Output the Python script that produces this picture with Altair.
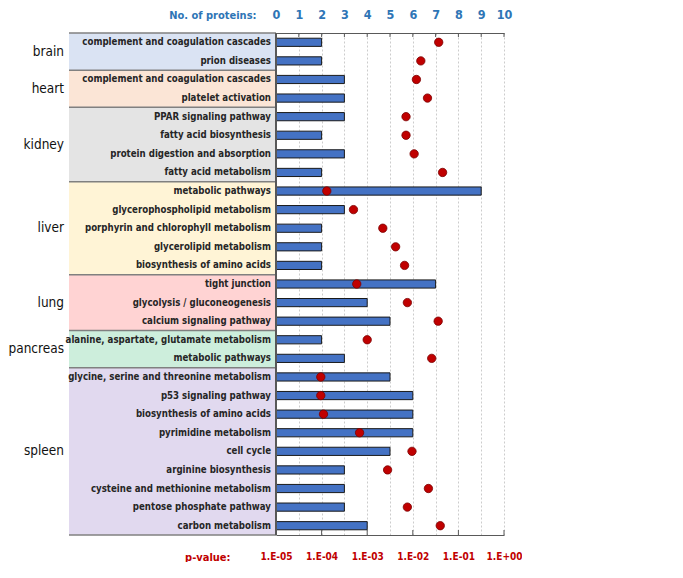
import altair as alt
import pandas as pd
import numpy as np

tissues = ["brain", "heart", "kidney", "liver", "lung", "pancreas", "spleen"]
tissue_sizes = [2, 2, 4, 5, 3, 2, 9]
band_colors = ["#DAE3F3", "#FBE5D6", "#E4E4E4", "#FFF4D6", "#FFD3D3", "#CDEEDC", "#E1D9EF"]

pathways = [
    "complement and coagulation cascades", "prion diseases",
    "complement and coagulation cascades", "platelet activation",
    "PPAR signaling pathway", "fatty acid biosynthesis",
    "protein digestion and absorption", "fatty acid metabolism",
    "metabolic pathways", "glycerophospholipid metabolism",
    "porphyrin and chlorophyll metabolism", "glycerolipid metabolism",
    "biosynthesis of amino acids",
    "tight junction", "glycolysis / gluconeogenesis", "calcium signaling pathway",
    "alanine, aspartate, glutamate metabolism", "metabolic pathways",
    "glycine, serine and threonine metabolism", "p53 signaling pathway",
    "biosynthesis of amino acids", "pyrimidine metabolism", "cell cycle",
    "arginine biosynthesis", "cysteine and methionine metabolism",
    "pentose phosphate pathway", "carbon metabolism",
]
n_proteins = [2, 2, 3, 3, 3, 2, 3, 2, 9, 3, 2, 2, 2, 7, 4, 5, 2, 3,
              5, 6, 6, 6, 5, 3, 3, 3, 4]
p_values = [0.037, 0.015, 0.012, 0.021, 0.0071, 0.0071, 0.0107, 0.045,
            1.3e-4, 5.0e-4, 2.2e-3, 4.2e-3, 6.6e-3,
            5.9e-4, 7.6e-3, 0.036,
            1.0e-3, 0.026,
            9.6e-5, 9.6e-5, 1.1e-4, 6.8e-4, 9.6e-3, 2.8e-3, 0.022, 7.6e-3, 0.040]

count_ticks = list(range(11))
p_ticks = [1e-5, 1e-4, 1e-3, 1e-2, 1e-1, 1]

N = len(pathways)
tissue_col = sum([[t] * s for t, s in zip(tissues, tissue_sizes)], [])
rows = pd.DataFrame({
    "pathway": pathways,
    "tissue": tissue_col,
    "count": n_proteins,
    "pval": p_values,
    "row": np.arange(N),
})
rows["ymid"] = rows["row"] + 0.5
rows["y0"] = rows["row"] + 0.28
rows["y1"] = rows["row"] + 0.72

starts = np.concatenate([[0], np.cumsum(tissue_sizes)[:-1]])
ends = np.cumsum(tissue_sizes)
groups = pd.DataFrame({
    "tissue": tissues,
    "start": starts,
    "end": ends,
    "center": (starts + ends) / 2,
    "color": band_colors,
})
bounds = pd.DataFrame({"b": list(starts) + [N]})
ct_df = pd.DataFrame({"v": count_ticks})
pt_df = pd.DataFrame({"v": p_ticks})

FONT = "DejaVu Sans Condensed, Liberation Sans, sans-serif"
yscale = alt.Scale(domain=[0, N], reverse=True, nice=False, zero=False)
cscale = alt.Scale(domain=[0, 10], nice=False)
pscale = alt.Scale(type="log", domain=[1e-5, 1], nice=False)
W, H = 228, 502

bands = alt.Chart(groups).mark_rect().encode(
    x=alt.value(-207), x2=alt.value(0),
    y=alt.Y("start:Q", scale=yscale, axis=None), y2="end:Q",
    color=alt.Color("color:N", scale=None),
)
band_rules = alt.Chart(bounds).mark_rule(color="#808080", strokeWidth=1.5).encode(
    x=alt.value(-207), x2=alt.value(0),
    y=alt.Y("b:Q", scale=yscale, axis=None),
)
tissue_text = alt.Chart(groups).mark_text(
    align="right", baseline="middle", font=FONT, fontSize=13.5,
    color="#111111"
).encode(
    x=alt.value(-212), y=alt.Y("center:Q", scale=yscale, axis=None), text="tissue:N"
)
path_text = alt.Chart(rows).mark_text(
    align="right", baseline="middle", font=FONT, fontSize=9.6, fontWeight="bold",
    color="#262626"
).encode(
    x=alt.value(-5), y=alt.Y("ymid:Q", scale=yscale, axis=None), text="pathway:N"
)

bars = alt.Chart(rows).mark_bar(
    color="#4472C4", stroke="#1a1a1a", strokeWidth=1
).encode(
    x=alt.X("count:Q", scale=cscale,
            axis=alt.Axis(orient="top", values=count_ticks, grid=True,
                          gridDash=[2, 2], gridColor="#cccccc", tickSize=0,
                          labelPadding=12, labelOverlap=False, labelFlush=False,
                          labelFont=FONT, labelFontSize=12.5,
                          labelFontWeight="bold", labelColor="#2E75B6",
                          domainColor="#595959", domainWidth=1.2,
                          title="No. of proteins:", titleAngle=0, titleAlign="right",
                          titleBaseline="middle", titleX=-20, titleY=-18,
                          titleFont=FONT, titleFontSize=11, titleFontWeight="bold",
                          titleColor="#2E75B6")),
    x2=alt.datum(0),
    y=alt.Y("y0:Q", scale=yscale, axis=None), y2="y1:Q",
)
top_ticks = alt.Chart(ct_df).mark_rule(color="#595959", strokeWidth=1).encode(
    x=alt.X("v:Q", scale=cscale, axis=None),
    y=alt.value(0), y2=alt.value(4),
)
bottom_ticks = alt.Chart(pt_df).mark_rule(color="#595959", strokeWidth=1).encode(
    x=alt.X("v:Q", scale=pscale, axis=None),
    y=alt.value(H - 5), y2=alt.value(H),
)
vline = alt.Chart(groups).mark_rule(color="#595959", strokeWidth=1.2).encode(
    x=alt.value(0), y=alt.value(0), y2=alt.value(H)
)
dots = alt.Chart(rows).mark_circle(
    size=70, color="#C00000", stroke="#7a0000", strokeWidth=0.8, opacity=1
).encode(
    x=alt.X("pval:Q", scale=pscale,
            axis=alt.Axis(orient="bottom", values=p_ticks,
                          grid=False, tickSize=0, labelPadding=16,
                          labelOverlap=False, labelFlush=False,
                          labelExpr="'1.E' + (round(log(datum.value)/LN10) < 0 ? '-0' + (-round(log(datum.value)/LN10)) : '+00')",
                          labelFont=FONT, labelFontSize=10, labelFontWeight="bold",
                          labelColor="#C00000", domainColor="#595959", domainWidth=1.2,
                          title="p-value:", titleAngle=0, titleAlign="right",
                          titleBaseline="middle", titleX=-46, titleY=22,
                          titleFont=FONT, titleFontSize=11, titleFontWeight="bold",
                          titleColor="#C00000")),
    y=alt.Y("ymid:Q", scale=yscale, axis=None),
)

chart = alt.layer(
    bands, band_rules, tissue_text, path_text, bars, top_ticks, bottom_ticks,
    vline, dots
).resolve_scale(x="independent").properties(
    width=W, height=H, padding=0
).configure_view(stroke=None)

chart.save("out.html", embed_options={"renderer": "svg", "actions": False})
